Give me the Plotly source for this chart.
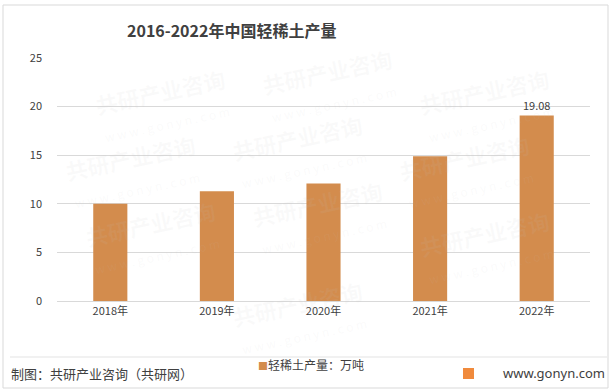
import plotly.graph_objects as go

categories = ["2018年", "2019年", "2020年", "2021年", "2022年"]
values = [10.0, 11.3, 12.1, 14.9, 19.08]
labels = ["", "", "", "", "19.08"]
series_name = "轻稀土产量：万吨"
y_ticks = [0, 5, 10, 15, 20, 25]

W, H = 615, 390
L, R, T, B = 57, 25, 58, 89
PW, PH = W - L - R, H - T - B

def px(x):
    return (x - L) / PW

def py(y):
    return (H - B - y) / PH

FONT = "Noto Sans CJK SC"
BAR = "#D38C4D"

fig = go.Figure()
fig.add_trace(go.Bar(
    x=categories, y=values, name=series_name,
    marker=dict(color=BAR, line=dict(width=0)),
    text=labels, textposition="outside",
    textfont=dict(family=FONT, size=11, color="#404040"),
    cliponaxis=False, showlegend=False,
))

shapes = [
    dict(type="rect", xref="paper", yref="paper", x0=px(3), x1=px(608), y0=py(388), y1=py(5),
         line=dict(color="#D9D9D9", width=1), fillcolor="rgba(0,0,0,0)", layer="below"),
    dict(type="line", xref="paper", yref="paper", x0=px(10), x1=px(607), y0=py(357), y1=py(357),
         line=dict(color="#E3E3E3", width=1)),
    dict(type="rect", xref="paper", yref="paper", x0=px(463), x1=px(474), y0=py(379), y1=py(368),
         line=dict(width=0), fillcolor="#F08A3C"),
]

annotations = [
    dict(text="<b>2016-2022年中国轻稀土产量</b>", xref="paper", yref="paper", x=px(231), y=py(30),
         showarrow=False, font=dict(family=FONT, size=16, color="#404040"), xanchor="center", yanchor="middle"),
    dict(text="制图：共研产业咨询（共研网）", xref="paper", yref="paper", x=px(9), y=py(373),
         showarrow=False, font=dict(family=FONT, size=13, color="#404040"), xanchor="left", yanchor="middle"),
    dict(text="www.gonyn.com", xref="paper", yref="paper", x=px(607), y=py(373),
         showarrow=False, font=dict(family="Noto Sans", size=13, color="#404040"), xanchor="right", yanchor="middle"),
    dict(text="<span style='color:%s;font-size:10px'>■</span>%s" % (BAR, series_name), xref="paper", yref="paper",
         x=px(256), y=py(364), showarrow=False, xanchor="left", yanchor="middle",
         font=dict(family=FONT, size=12, color="#404040")),
]

# faint watermarks
wm = [(90, 60), (330, 40), (560, 60), (60, 170), (300, 150), (540, 170),
      (80, 280), (320, 260), (560, 290), (300, 360)]
for (x, y) in wm:
    annotations.append(dict(text="<b>共研产业咨询</b><br><span style='font-size:12px'>w w w . g o n y n . c o m</span>",
                            xref="paper", yref="paper", x=px(x), y=py(y), showarrow=False, textangle=-12,
                            font=dict(family=FONT, size=22, color="rgba(200,200,200,0.09)")))

fig.update_layout(
    width=W, height=H,
    margin=dict(l=L, r=R, t=T, b=B, autoexpand=False),
    paper_bgcolor="white", plot_bgcolor="white",
    bargap=0.68,
    showlegend=False,
    xaxis=dict(showline=True, linecolor="#D9D9D9", linewidth=1, ticks="",
               tickfont=dict(family=FONT, size=11, color="#404040"), showgrid=False),
    yaxis=dict(range=[0, 25], tickvals=y_ticks, showgrid=True, gridcolor="#D9D9D9", gridwidth=1,
               zeroline=False, showline=False, ticks="", ticklabelstandoff=14,
               tickfont=dict(family=FONT, size=11, color="#404040")),
    shapes=shapes,
    annotations=annotations,
)

fig.write_html("out.html", config={"displayModeBar": False},
               post_script="document.body.style.margin='0';document.body.style.overflow='hidden';")
